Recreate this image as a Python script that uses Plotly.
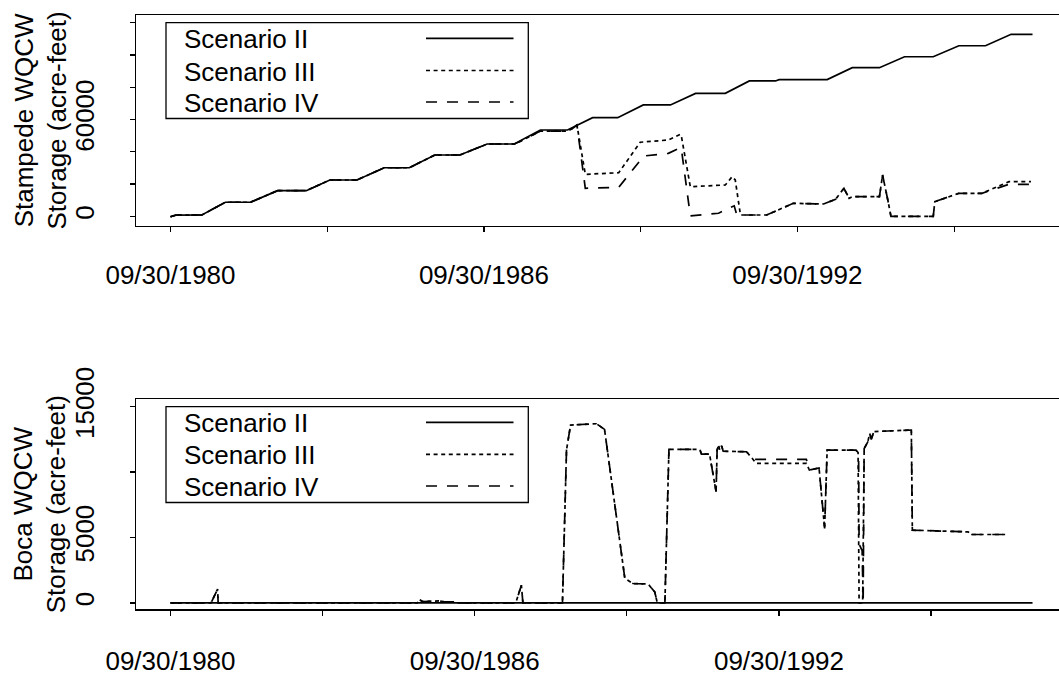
import plotly.graph_objects as go

# ------------------------------------------------------------------ data
scenarios = ["Scenario II", "Scenario III", "Scenario IV"]

tick_years = [1980.75, 1983.75, 1986.75, 1989.75, 1992.75, 1995.75]
tick_text = ["09/30/1980", "", "09/30/1986", "", "09/30/1992", ""]

stampede_yticks = [0, 20000, 40000, 60000, 80000, 100000, 120000]
stampede_ytext = ["0", "", "", "60000", "", "", ""]
boca_yticks = [0, 5000, 10000, 15000]
boca_ytext = ["0", "5000", "", "15000"]

# Stampede WQCW storage (acre-feet), time in decimal years
stampede_t_II = [1980.75, 1980.85, 1981.35, 1981.80, 1982.28, 1982.80, 1983.35, 1983.80,
                 1984.32, 1984.84, 1985.32, 1985.81, 1986.29, 1986.81, 1987.33, 1987.83,
                 1988.35, 1988.83, 1989.31, 1989.80, 1990.32, 1990.80, 1991.37, 1991.83,
                 1992.33, 1992.40, 1993.32, 1993.80, 1994.32, 1994.80, 1995.35, 1995.84,
                 1996.35, 1996.84, 1997.25]
stampede_II = [-300, 700, 800, 8700, 8700, 15900, 15900, 22500,
               22500, 30100, 30100, 38000, 38000, 44800, 44800, 53500,
               53500, 61100, 61100, 69000, 69000, 76200, 76200, 83900,
               83900, 84700, 84700, 92100, 92100, 98900, 98900, 105700,
               105700, 112800, 112800]

stampede_t_III = [1980.75, 1980.85, 1981.35, 1981.80, 1982.28, 1982.80, 1983.35, 1983.80,
                  1984.32, 1984.84, 1985.32, 1985.81, 1986.29, 1986.81, 1987.33, 1987.42,
                  1987.83, 1988.35, 1988.45, 1988.53, 1988.69, 1989.33, 1989.74, 1990.28,
                  1990.51, 1990.53, 1990.70, 1991.37, 1991.50, 1991.56, 1991.66, 1992.16,
                  1992.67, 1993.25, 1993.48, 1993.64, 1993.74, 1993.80, 1994.32, 1994.38,
                  1994.48, 1994.54, 1995.35, 1995.38, 1995.84, 1996.28, 1996.80, 1997.22]
stampede_III = [-300, 700, 800, 8700, 8700, 15900, 15900, 22500,
                22500, 30100, 30100, 38000, 38000, 44800, 44800, 46000,
                52800, 52800, 54500, 56600, 26000, 27000, 45900, 47300,
                50800, 49500, 18350, 19400, 24550, 22500, 800, 800,
                8060, 7630, 10540, 17360, 11160, 12150, 12150, 25600,
                10100, 0, 0, 9050, 14260, 14260, 21450, 21450]

stampede_t_IV = [1980.75, 1980.85, 1981.35, 1981.80, 1982.28, 1982.80, 1983.35, 1983.80,
                 1984.32, 1984.84, 1985.32, 1985.81, 1986.29, 1986.81, 1987.33, 1987.42,
                 1987.83, 1988.35, 1988.45, 1988.53, 1988.69, 1989.33, 1989.81, 1990.28,
                 1990.51, 1990.53, 1990.70, 1991.24, 1991.50, 1991.54, 1991.59, 1992.16,
                 1992.67, 1993.25, 1993.48, 1993.64, 1993.74, 1993.80, 1994.32, 1994.38,
                 1994.48, 1994.54, 1995.35, 1995.38, 1995.84, 1996.28, 1996.80, 1997.22]
stampede_IV = [-300, 700, 800, 8700, 8700, 15900, 15900, 22500,
               22500, 30100, 30100, 38000, 38000, 44800, 44800, 46000,
               52800, 52800, 54500, 56600, 17360, 18000, 37400, 39000,
               42500, 41500, 200, 1900, 5950, 6500, 800, 800,
               8060, 7630, 10540, 17360, 11160, 12150, 12150, 25600,
               10100, 0, 0, 9050, 14260, 14260, 19840, 19840]

# Boca WQCW storage (acre-feet)
boca_t_II = [1980.75, 1997.75]
boca_II = [0, 0]

boca_t_III = [1980.75, 1981.55, 1981.68, 1981.69, 1985.62, 1985.66, 1985.72, 1986.05,
              1986.15, 1986.35, 1986.38, 1987.56, 1987.67, 1987.70, 1988.48, 1988.56,
              1988.64, 1989.15, 1989.31, 1989.71, 1989.87, 1990.17, 1990.30, 1990.35,
              1990.50, 1990.58, 1991.19, 1991.22, 1991.38, 1991.51, 1991.53, 1991.56,
              1991.58, 1991.62, 1991.65, 1992.11, 1992.24, 1992.30, 1993.29, 1993.35,
              1993.54, 1993.65, 1993.70, 1994.27, 1994.31, 1994.33, 1994.40, 1994.43,
              1994.50, 1994.54, 1994.57, 1994.62, 1995.36, 1995.38, 1996.48, 1996.55,
              1997.21]
boca_III = [0, 0, 1050, 0, 0, 250, 100, 150,
            80, 80, 0, 0, 1350, 0, 0, 11700,
            13600, 13700, 13270, 1870, 1480, 1440, 840, 0,
            0, 11740, 11740, 11380, 11380, 8500, 11690, 12070,
            11700, 12000, 11600, 11560, 10970, 10670, 10670, 10160,
            10320, 5690, 11690, 11690, 11500, 0, 0, 11800,
            12300, 12960, 12500, 13100, 13220, 5560, 5430, 5230,
            5230]

boca_t_IV = [1980.75, 1981.55, 1981.68, 1981.69, 1985.62, 1985.66, 1985.72, 1986.05,
             1986.15, 1986.35, 1986.38, 1987.56, 1987.67, 1987.70, 1988.48, 1988.56,
             1988.64, 1989.15, 1989.31, 1989.71, 1989.87, 1990.17, 1990.30, 1990.35,
             1990.50, 1990.58, 1991.19, 1991.22, 1991.38, 1991.51, 1991.53, 1991.56,
             1991.58, 1991.62, 1991.65, 1992.11, 1992.24, 1992.30, 1993.29, 1993.35,
             1993.54, 1993.65, 1993.70, 1994.27, 1994.32, 1994.33, 1994.39, 1994.41,
             1994.43, 1994.50, 1994.54, 1994.57, 1994.62, 1995.36, 1995.38, 1996.48,
             1996.55, 1997.21]
boca_IV = [0, 0, 1050, 0, 0, 250, 100, 150,
           80, 80, 0, 0, 1350, 0, 0, 11700,
           13600, 13700, 13270, 1870, 1480, 1440, 840, 0,
           0, 11740, 11740, 11380, 11380, 8500, 11690, 12070,
           11700, 12000, 11600, 11560, 10970, 10970, 10970, 10160,
           10320, 5690, 11690, 11690, 11300, 4500, 4000, 0,
           11800, 12300, 12960, 12500, 13100, 13220, 5560, 5430,
           5230, 5230]

# ------------------------------------------------------------------ styling
W, H = 1059, 675
ML = 136
PW = W - ML
FONT = "Liberation Sans, Arial, Helvetica, sans-serif"
FS = 26
DASHES = ["solid", "4px,3.6px", "11px,10px"]
LW = 1.7


def px2x(px):
    return (px - ML) / PW


def py2y(py):
    return (H - py) / H


def r_range(tmin, tmax, full_px=931.0):
    span = tmax - tmin
    lo = tmin - 0.04 * span
    hi = tmax + 0.04 * span
    return [lo, lo + (hi - lo) * PW / full_px]


fig = go.Figure()

top_series = [(stampede_t_II, stampede_II), (stampede_t_III, stampede_III),
              (stampede_t_IV, stampede_IV)]
bot_series = [(boca_t_II, boca_II), (boca_t_III, boca_III), (boca_t_IV, boca_IV)]

for (t, v), name, dash in zip(top_series, scenarios, DASHES):
    fig.add_trace(go.Scatter(x=t, y=v, mode="lines", name=name, showlegend=False,
                             line=dict(color="black", width=LW, dash=dash),
                             xaxis="x", yaxis="y"))
for (t, v), name, dash in zip(bot_series, scenarios, DASHES):
    fig.add_trace(go.Scatter(x=t, y=v, mode="lines", name=name, showlegend=False,
                             line=dict(color="black", width=LW, dash=dash),
                             xaxis="x2", yaxis="y2"))

axis_common = dict(showgrid=False, zeroline=False, showline=True, linecolor="black",
                   linewidth=1.4, ticks="outside", ticklen=5, tickwidth=1.3,
                   tickcolor="black", automargin=False,
                   tickfont=dict(family=FONT, size=FS, color="black"))

top_x = min(stampede_t_II[0], stampede_t_III[0], stampede_t_IV[0])
top_xe = max(stampede_t_II[-1], stampede_t_III[-1], stampede_t_IV[-1])
bot_x = min(boca_t_II[0], boca_t_III[0], boca_t_IV[0])
bot_xe = max(boca_t_II[-1], boca_t_III[-1], boca_t_IV[-1])

fig.update_layout(
    width=W, height=H, template="none",
    paper_bgcolor="white", plot_bgcolor="white",
    margin=dict(l=ML, r=0, t=0, b=0, pad=0),
    showlegend=False,
    xaxis=dict(axis_common, domain=[0, 1], anchor="y", mirror=True,
               range=r_range(top_x, top_xe),
               tickmode="array", tickvals=tick_years, ticktext=tick_text,
               ticklabelstandoff=20),
    yaxis=dict(axis_common, domain=[py2y(226), py2y(15)], anchor="x",
               range=[-6012, 124765], tickmode="array",
               tickvals=stampede_yticks, ticktext=stampede_ytext,
               tickangle=-90, ticklabelstandoff=25),
    xaxis2=dict(axis_common, domain=[0, 1], anchor="y2", mirror=True,
                range=r_range(bot_x, bot_xe),
                tickmode="array", tickvals=tick_years, ticktext=tick_text,
                ticklabelstandoff=23),
    yaxis2=dict(axis_common, domain=[py2y(609.4), py2y(399.3)], anchor="x2",
                range=[-500, 15570], tickmode="array",
                tickvals=boca_yticks, ticktext=boca_ytext,
                tickangle=-90, ticklabelstandoff=25),
)

shapes = []
annotations = []

# y-axis titles
for title, cy in [("Stampede WQCW<br>Storage (acre-feet)", 120.5),
                  ("Boca WQCW<br>Storage (acre-feet)", 504.3)]:
    annotations.append(dict(text=title, xref="paper", yref="paper",
                            x=px2x(40), y=py2y(cy), xanchor="center", yanchor="middle",
                            textangle=-90, showarrow=False,
                            font=dict(family=FONT, size=FS, color="black")))

# legends (R style: label on the left, line sample on the right)
for box_top, rows in [(22.7, [38.3, 70.5, 102.0]), (406.7, [422.3, 454.3, 486.0])]:
    box_bottom = box_top + 95.8
    shapes.append(dict(type="rect", xref="paper", yref="paper",
                       x0=px2x(166), x1=px2x(528.3), y0=py2y(box_bottom), y1=py2y(box_top),
                       line=dict(color="black", width=1.3), fillcolor="white", layer="above"))
    for name, dash, ry in zip(scenarios, DASHES, rows):
        shapes.append(dict(type="line", xref="paper", yref="paper",
                           x0=px2x(426), x1=px2x(513.5), y0=py2y(ry), y1=py2y(ry),
                           line=dict(color="black", width=LW, dash=dash), layer="above"))
        annotations.append(dict(text=name, xref="paper", yref="paper",
                                x=px2x(182), y=py2y(ry + 1), xanchor="left", yanchor="middle",
                                showarrow=False,
                                font=dict(family=FONT, size=FS, color="black")))

fig.update_layout(shapes=shapes, annotations=annotations)

fig.write_html("out.html",
               config={"displayModeBar": False, "staticPlot": True},
               post_script="document.body.style.margin='0';document.body.style.overflow='hidden';")
